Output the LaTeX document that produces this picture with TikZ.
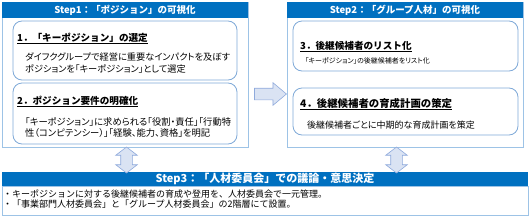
\documentclass[tikz,border=0pt]{standalone}
\usepackage{fontspec}
\usepackage{xcolor}
\usepackage{tikz}
\usetikzlibrary{shapes.arrows}
\newfontfamily\jpfont{Noto Sans CJK JP}
\newfontfamily\jpprop[RawFeature=+palt]{Noto Sans CJK JP}
\definecolor{hdblue}{HTML}{0070C0}
\definecolor{panelline}{HTML}{9DC3E6}
\definecolor{cardline}{HTML}{7FA9D8}
\definecolor{arrfill}{HTML}{DAE3F3}
\definecolor{arrline}{HTML}{8FAADC}

\begin{document}
\begin{tikzpicture}[x=1pt, y=-1pt,
    panel/.style={rectangle, draw=panelline, line width=0.8pt, inner sep=0pt},
    hdr/.style={rectangle, fill=hdblue, inner sep=0pt, text=white, font=\jpfont\bfseries\fontsize{9.5}{11}\selectfont},
    card/.style={rectangle, draw=cardline, line width=0.8pt, rounded corners=9pt, fill=white, inner sep=0pt},
    ttl/.style={anchor=base west, inner sep=0pt, font=\jpfont\bfseries\fontsize{9.6}{11}\selectfont},
    txt/.style={anchor=north west, inner sep=0pt, align=left, font=\jpprop\fontsize{9.2}{12}\selectfont},
    flow/.style={single arrow, draw=arrline, fill=arrfill, line width=0.6pt, inner xsep=0pt, inner ysep=5.5pt, single arrow head extend=5.5pt, single arrow tip angle=80, minimum height=32pt},
    updn/.style={double arrow, draw=arrline, fill=arrfill, line width=0.6pt, inner xsep=0pt, inner ysep=5.5pt, double arrow head extend=5pt, double arrow tip angle=105, minimum height=26pt, rotate=90}
]
    \useasboundingbox (0,0) rectangle (530,217);

    % Step 1
    \node[panel, minimum width=246pt, minimum height=145pt] (pnlA) at (125,74.5) {};
    \node[hdr, minimum width=246pt, minimum height=16pt] (hdrA) at (125,10) {Step1：「ポジション」の可視化};
    \node[card, minimum width=224pt, minimum height=59pt] (card1) at (125,50.5) {};
    \node[card, minimum width=224pt, minimum height=61pt] (card2) at (125,113.5) {};
    \node[ttl] (ttl1) at (17,41) {\underline{1．「キーポジション」の選定}};
    \node[txt] (txt1) at (25,52.5) {ダイフクグループで経営に重要なインパクトを及ぼす\\ポジションを「キーポジション」として選定};
    \node[ttl] (ttl2) at (17,104) {\underline{2．ポジション要件の明確化}};
    \node[txt, font=\jpprop\fontsize{9.3}{11.5}\selectfont] (txt2) at (25,117) {「キーポジション」に求められる「役割・責任」「行動特\\性（コンピテンシー）」「経験、能力、資格」を明記};

    % Step 2
    \node[panel, minimum width=236pt, minimum height=145pt] (pnlB) at (405,74.5) {};
    \node[hdr, minimum width=236pt, minimum height=16pt] (hdrB) at (405,10) {Step2：「グループ人材」の可視化};
    \node[card, minimum width=225pt, minimum height=50pt] (card3) at (405.5,46) {};
    \node[card, minimum width=225pt, minimum height=47pt] (card4) at (405.5,111.5) {};
    \node[ttl] (ttl3) at (300,49) {\underline{3．後継候補者のリスト化}};
    \node[txt, font=\jpprop\fontsize{7}{8}\selectfont] (txt3) at (305,57.5) {「キーポジション」の後継候補者をリスト化};
    \node[ttl, font=\jpfont\bfseries\fontsize{10.4}{11}\selectfont] (ttl4) at (300,107) {\underline{4．後継候補者の育成計画の策定}};
    \node[txt, font=\jpprop\fontsize{9}{11}\selectfont] (txt4) at (307,121) {後継候補者ごとに中期的な育成計画を策定};

    % Step 3
    \node[panel, minimum width=526pt, minimum height=29pt] (pnlC) at (265,200.5) {};
    \node[hdr, minimum width=526pt, minimum height=14pt, font=\jpfont\bfseries\fontsize{11}{12}\selectfont] (hdrC) at (265,179) {Step3：「人材委員会」での議論・意思決定};
    \node[txt, font=\jpfont\fontsize{9}{10}\selectfont] (txt5) at (3,190) {・キーポジションに対する後継候補者の育成や登用を、人材委員会で一元管理。\\・「事業部門人材委員会」と「グループ人材委員会」の2階層にて設置。};

    % Arrows
    \node[flow] (arrAB) at (267,94) {};
    \node[updn] (arrAC) at (126.5,160) {};
    \node[updn] (arrBC) at (396.5,160) {};
\end{tikzpicture}
\end{document}
